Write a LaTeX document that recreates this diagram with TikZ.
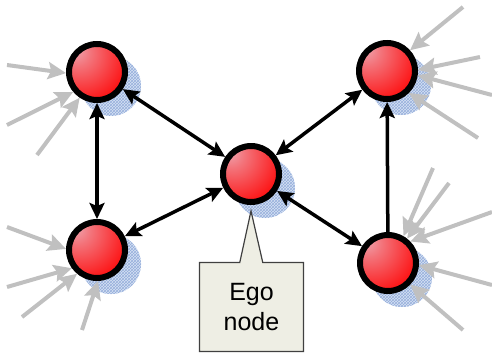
\documentclass[tikz,border=0pt]{standalone}
\usepackage{fontspec}
\setmainfont{Liberation Sans}
\usetikzlibrary{arrows.meta,shapes.callouts,patterns}
\definecolor{ballred}{RGB}{255,0,0}
\definecolor{ballpink}{RGB}{238,165,175}
\definecolor{hazeblue}{RGB}{215,226,244}
\definecolor{hatchblue}{RGB}{150,175,220}
\definecolor{feedgray}{RGB}{192,192,192}
\definecolor{paper}{RGB}{238,238,228}
\pgfdeclareradialshading{redball}{\pgfpoint{-20bp}{20bp}}{%
  color(0bp)=(ballpink); color(12bp)=(ballpink!70!ballred);
  color(45bp)=(ballred); color(100bp)=(ballred)}
\tikzset{
  >={Stealth[length=16pt,width=15pt,inset=3pt]},
  actor/.style={circle,draw=black,line width=6pt,minimum size=56pt,
    inner sep=0pt,shading=redball},
  haze/.style={fill=hazeblue,postaction={pattern=crosshatch,pattern color=hatchblue}},
  link/.style={<->,line width=3.5pt},
  oneway/.style={->,line width=3.5pt},
  feed/.style={-{Stealth[length=18pt,width=17pt,inset=3pt]},draw=feedgray,line width=4pt},
  callout/.style={rectangle callout,draw=black!75,line width=1.2pt,fill=paper,
    minimum width=104pt,minimum height=89pt,align=center,
    font=\fontsize{25}{30}\selectfont,callout pointer width=23pt},
}
\begin{document}
\begin{tikzpicture}[x=1pt,y=-1pt]
  \useasboundingbox (0,0) rectangle (492,354);
  % actors with their soft shadows
  \foreach \n/\x/\y in {tl/97/72,tr/387/71,ego/251/174,bl/97/250,br/388/263}{
    \fill[haze] (\x+14,\y+14) circle (30pt);
    \node[actor] (\n) at (\x,\y) {};
  }
  % incoming ties from outside
  \foreach \i/\x/\y/\t/\a in {1/7/65/tl/182,2/7/125/tl/220,3/37/155/tl/236,
      4/463/7/tr/42,5/480/57/tr/2,6/492/95/tr/352,7/478/138/tr/315,
      8/433/168/br/60,9/449/183/br/52,10/492/212/br/44,11/492/285/br/356,12/463/330/br/316,
      13/7/227/bl/178,14/7/287/bl/216,15/22/317/bl/230,16/82/330/bl/272}{
    \coordinate (f\i) at (\x,\y);
    \draw[feed] (f\i) -- (\t.\a);
  }
  % ties around the ego
  \draw[link] (tl) -- (bl);
  \draw[link] (tl) -- (ego);
  \draw[link] (bl) -- (ego);
  \draw[link] (ego) -- (tr);
  \draw[link] (ego) -- (br);
  \draw[oneway] (br) -- (tr);
  \node[callout,callout absolute pointer={([yshift=-6pt]ego.south)}] (lbl) at (251.5,307) {Ego\\node};
\end{tikzpicture}
\end{document}
